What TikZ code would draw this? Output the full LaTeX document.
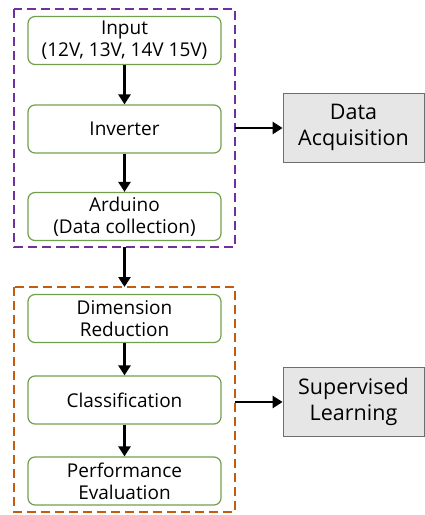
\documentclass[tikz,border=0pt]{standalone}
\usepackage{fontspec}
\setmainfont{Open Sans}
\usetikzlibrary{arrows.meta}
\definecolor{stepgreen}{RGB}{112,160,78}
\definecolor{grpurple}{RGB}{112,48,160}
\definecolor{grorange}{RGB}{197,90,17}
\definecolor{sidefill}{RGB}{230,230,230}
\definecolor{sideline}{RGB}{110,110,110}
\begin{document}
\begin{tikzpicture}[x=1pt,y=-1pt,
  stepbox/.style={draw=stepgreen,line width=1.2pt,rounded corners=7pt,
    minimum width=193pt,minimum height=48pt,align=center,inner sep=0pt,
    font=\fontsize{19}{22}\selectfont},
  sidebox/.style={draw=sideline,fill=sidefill,line width=0.8pt,
    minimum width=141pt,minimum height=69pt,align=center,inner sep=0pt,
    font=\fontsize{21.5}{26}\selectfont},
  group/.style={dashed,dash pattern=on 9pt off 5pt,line width=1.8pt},
  flow/.style={-{Triangle[length=10pt,width=12pt]},line width=2.8pt}]
\useasboundingbox (0,0) rectangle (425,515);
% processing stage
\node[stepbox] (input) at (124.5,40.5) {Input\\(12V, 13V, 14V 15V)};
\node[stepbox] (inv) at (124.5,129) {Inverter};
\node[stepbox] (ard) at (124.5,216.5) {Arduino\\(Data collection)};
\draw[group,grpurple] (14,9) rectangle (235,247);
\coordinate (g1s) at (124.5,247);
\coordinate (g1e) at (235,128);
% learning stage
\node[stepbox] (dim) at (124.5,318.5) {Dimension\\Reduction};
\node[stepbox] (cls) at (124.5,400) {Classification};
\node[stepbox] (perf) at (124.5,481) {Performance\\Evaluation};
\draw[group,grorange] (14,287) rectangle (235,512);
\coordinate (g2n) at (124.5,287);
\coordinate (g2e) at (235,402);
% side labels
\node[sidebox] (daq) at (353.5,127.5) {Data\\Acquisition};
\node[sidebox] (sup) at (353.5,401.5) {Supervised\\Learning};
% arrows
\draw[flow] (input) -- (inv);
\draw[flow] (inv) -- (ard);
\draw[flow] (g1s) -- (g2n);
\draw[flow] (dim) -- (cls);
\draw[flow] (cls) -- (perf);
\draw[flow] (g1e) -- (daq.west|-g1e);
\draw[flow] (g2e) -- (sup.west|-g2e);
\end{tikzpicture}
\end{document}
